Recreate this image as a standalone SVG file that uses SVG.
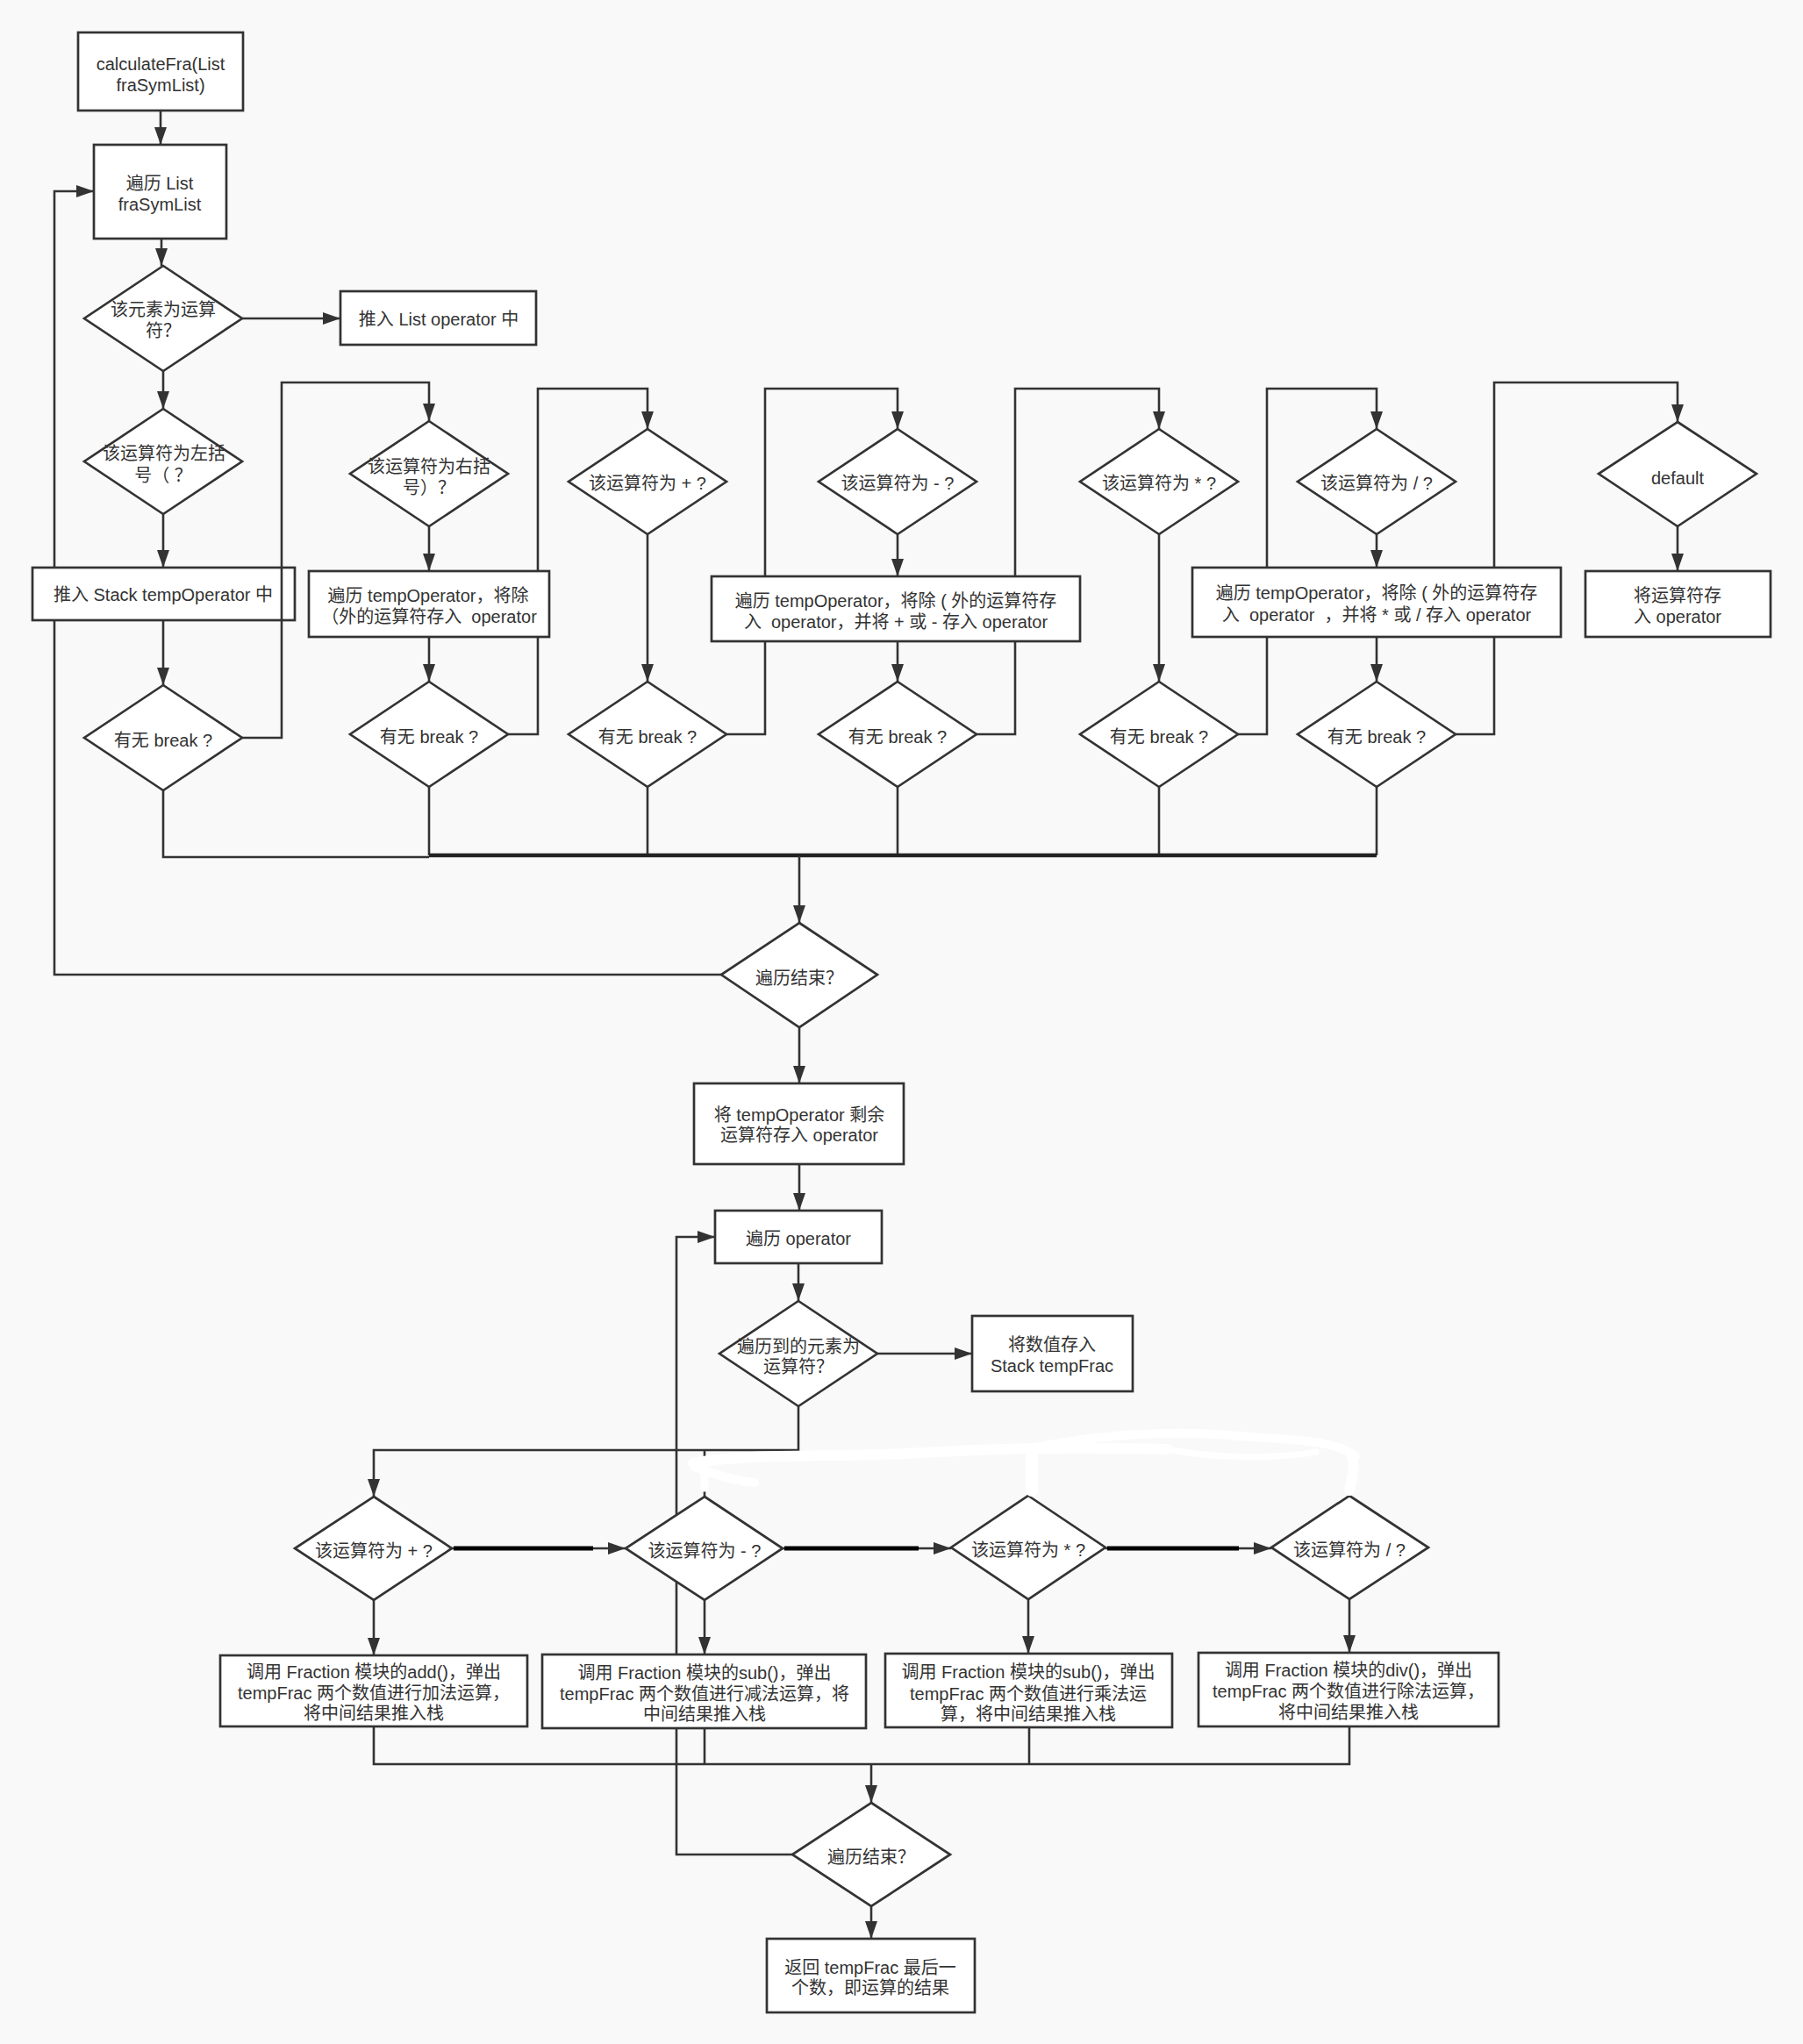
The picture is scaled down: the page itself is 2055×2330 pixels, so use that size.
<svg xmlns="http://www.w3.org/2000/svg" width="2055" height="2330" viewBox="0 0 2055 2330">
<defs>
<marker id="arr" markerUnits="userSpaceOnUse" markerWidth="20" markerHeight="16" viewBox="0 0 20 16" refX="20" refY="8" orient="auto">
<path d="M0,1 L20,8 L0,15 z" fill="#333"/>
</marker>
<style>
.n{fill:#fff;stroke:#333;stroke-width:2.7}
.c{fill:none;stroke:#333;stroke-width:2.6}
.ca{fill:none;stroke:#333;stroke-width:2.6;marker-end:url(#arr)}
.tk{fill:none;stroke:#222;stroke-width:4.5}
.bk{fill:none;stroke:#000;stroke-width:5}
.er{fill:none;stroke:#fff;stroke-linecap:round;stroke-linejoin:round}
text{font-family:"Liberation Sans","Noto Sans CJK SC",sans-serif;font-size:20px;fill:#333;text-anchor:middle;dominant-baseline:central;white-space:pre}
</style>
</defs>
<rect width="2055" height="2330" fill="#f9f9f9"/>

<g id="connectors">
<path class="ca" d="M183,126 V165"/>
<path class="ca" d="M184,272 V303"/>
<path class="ca" d="M276,363 H388"/>
<path class="ca" d="M186,423 V466"/>
<path class="ca" d="M186,586 V647"/>
<path class="ca" d="M186,707 V781"/>
<path class="ca" d="M489,600 V651"/>
<path class="ca" d="M489,726 V777"/>
<path class="ca" d="M579,837 H613 V443 H738 V489"/>
<path class="ca" d="M738,609 V777"/>
<path class="ca" d="M828,837 H872 V443 H1023 V489"/>
<path class="ca" d="M1023,609 V657"/>
<path class="ca" d="M1023,731 V777"/>
<path class="ca" d="M1113,837 H1157 V443 H1321 V489"/>
<path class="ca" d="M1321,609 V777"/>
<path class="ca" d="M1411,837 H1444 V443 H1569 V489"/>
<path class="ca" d="M1569,609 V647"/>
<path class="ca" d="M1569,726 V777"/>
<path class="ca" d="M1659,837 H1703 V436 H1912 V481"/>
<path class="ca" d="M1912,600 V651"/>
<path class="c" d="M186,901 V977 H489"/>
<path class="c" d="M489,897 V975"/>
<path class="c" d="M738,897 V975"/>
<path class="c" d="M1023,897 V975"/>
<path class="c" d="M1321,897 V975"/>
<path class="c" d="M1569,897 V975"/>
<path class="tk" d="M489,975 H1569"/>
<path class="ca" d="M911,976 V1052"/>
<path class="ca" d="M822,1111 H62 V218 H107"/>
<path class="ca" d="M911,1171 V1235"/>
<path class="ca" d="M911,1327 V1380"/>
<path class="ca" d="M910,1440 V1483"/>
<path class="ca" d="M1000,1543 H1108"/>
<path class="ca" d="M910,1603 V1653 H426 V1706"/>
<path class="c" d="M803,1653 V1664"/>
<path class="c" d="M803,1698 V1706"/>
<path class="ca" d="M515,1765 H713"/>
<path class="bk" d="M517,1765 H676"/>
<path class="ca" d="M892,1765 H1084"/>
<path class="bk" d="M894,1765 H1047"/>
<path class="ca" d="M1260,1765 H1449"/>
<path class="bk" d="M1262,1765 H1412"/>
<path class="ca" d="M426,1824 V1887"/>
<path class="ca" d="M803,1824 V1886"/>
<path class="ca" d="M1172,1823 V1885"/>
<path class="ca" d="M1538,1823 V1884"/>
<path class="c" d="M426,1968 V2011 H1538 V1968"/>
<path class="c" d="M803,1970 V2011"/>
<path class="c" d="M1173,1969 V2011"/>
<path class="ca" d="M993,2011 V2055"/>
<path class="ca" d="M903,2114 H771 V1410 H815"/>
<path class="ca" d="M993,2173 V2210"/>
</g>

<g id="n-start"><rect class="n" x="89" y="37" width="188" height="89"/><text x="183" y="73">calculateFra(List</text><text x="183" y="97">fraSymList)</text></g>
<g id="n-iter-list"><rect class="n" x="107" y="165" width="151" height="107"/><text x="182" y="209">遍历 List</text><text x="182" y="233">fraSymList</text></g>
<g id="n-is-op"><polygon class="n" points="186,303 276,363 186,423 96,363"/><text x="186" y="353">该元素为运算</text><text x="186" y="377">符？</text></g>
<g id="n-push-list"><rect class="n" x="388" y="332" width="223" height="61"/><text x="500" y="364">推入 List operator 中</text></g>
<g id="n-lparen"><polygon class="n" points="186,466 276,526 186,586 96,526"/><text x="187" y="517">该运算符为左括</text><text x="186" y="542">号（ ？</text></g>
<g id="n-push-stack"><rect class="n" x="37" y="647" width="299" height="60"/><text x="186" y="678">推入 Stack tempOperator 中</text></g>
<g id="n-break1"><polygon class="n" points="186,781 276,841 186,901 96,841"/><text x="186" y="844">有无 break ?</text></g>
<g id="n-rparen"><polygon class="n" points="489,480 579,540 489,600 399,540"/><text x="489" y="532">该运算符为右括</text><text x="489" y="556">号）？</text></g>
<g id="n-box1"><rect class="n" x="352" y="651" width="274" height="75"/><text x="488" y="679">遍历 tempOperator，将除</text><text x="489" y="703">（外的运算符存入  operator</text></g>
<g id="n-break2"><polygon class="n" points="489,777 579,837 489,897 399,837"/><text x="489" y="840">有无 break ?</text></g>
<g id="n-plus"><polygon class="n" points="738,489 828,549 738,609 648,549"/><text x="738" y="551">该运算符为 + ?</text></g>
<g id="n-break3"><polygon class="n" points="738,777 828,837 738,897 648,837"/><text x="738" y="840">有无 break ?</text></g>
<g id="n-minus"><polygon class="n" points="1023,489 1113,549 1023,609 933,549"/><text x="1023" y="551">该运算符为 - ?</text></g>
<g id="n-box2"><rect class="n" x="811" y="657" width="420" height="74"/><text x="1021" y="685">遍历 tempOperator，将除 ( 外的运算符存</text><text x="1021" y="709">入  operator，并将 + 或 - 存入 operator</text></g>
<g id="n-break4"><polygon class="n" points="1023,777 1113,837 1023,897 933,837"/><text x="1023" y="840">有无 break ?</text></g>
<g id="n-mul"><polygon class="n" points="1321,489 1411,549 1321,609 1231,549"/><text x="1321" y="551">该运算符为 * ?</text></g>
<g id="n-break5"><polygon class="n" points="1321,777 1411,837 1321,897 1231,837"/><text x="1321" y="840">有无 break ?</text></g>
<g id="n-div"><polygon class="n" points="1569,489 1659,549 1569,609 1479,549"/><text x="1569" y="551">该运算符为 / ?</text></g>
<g id="n-box3"><rect class="n" x="1359" y="647" width="420" height="79"/><text x="1569" y="676">遍历 tempOperator，将除 ( 外的运算符存</text><text x="1569" y="701">入  operator  ，并将 * 或 / 存入 operator</text></g>
<g id="n-break6"><polygon class="n" points="1569,777 1659,837 1569,897 1479,837"/><text x="1569" y="840">有无 break ?</text></g>
<g id="n-default"><polygon class="n" points="1912,481 2002,540 1912,600 1822,540"/><text x="1912" y="545">default</text></g>
<g id="n-default-box"><rect class="n" x="1807" y="651" width="211" height="75"/><text x="1912" y="679">将运算符存</text><text x="1912" y="703">入 operator</text></g>
<g id="n-end1"><polygon class="n" points="911,1052 1000,1111 911,1171 822,1111"/><text x="911" y="1115">遍历结束？</text></g>
<g id="n-remain"><rect class="n" x="791" y="1235" width="239" height="92"/><text x="911" y="1271">将 tempOperator 剩余</text><text x="911" y="1294">运算符存入 operator</text></g>
<g id="n-iter-op"><rect class="n" x="815" y="1380" width="190" height="60"/><text x="910" y="1412">遍历 operator</text></g>
<g id="n-is-op2"><polygon class="n" points="910,1483 1000,1543 910,1603 820,1543"/><text x="910" y="1535">遍历到的元素为</text><text x="910" y="1558">运算符？</text></g>
<g id="n-push-frac"><rect class="n" x="1108" y="1500" width="183" height="86"/><text x="1199" y="1533">将数值存入</text><text x="1199" y="1557">Stack tempFrac</text></g>
<g id="n-q-plus"><polygon class="n" points="426,1706 515,1765 426,1824 336,1765"/><text x="426" y="1768">该运算符为 + ?</text></g>
<g id="n-q-minus"><polygon class="n" points="803,1706 892,1765 803,1824 713,1765"/><text x="803" y="1768">该运算符为 - ?</text></g>
<g id="n-q-mul"><polygon class="n" points="1172,1705 1260,1764 1172,1823 1084,1764"/><text x="1172" y="1767">该运算符为 * ?</text></g>
<g id="n-q-div"><polygon class="n" points="1538,1705 1628,1764 1538,1823 1449,1764"/><text x="1538" y="1767">该运算符为 / ?</text></g>
<g id="n-add"><rect class="n" x="251" y="1887" width="350" height="81"/><text x="426" y="1906">调用 Fraction 模块的add()，弹出</text><text x="426" y="1930">tempFrac 两个数值进行加法运算，</text><text x="426" y="1953">将中间结果推入栈</text></g>
<g id="n-sub"><rect class="n" x="618" y="1886" width="369" height="84"/><text x="803" y="1907">调用 Fraction 模块的sub()，弹出</text><text x="803" y="1931">tempFrac 两个数值进行减法运算，将</text><text x="803" y="1954">中间结果推入栈</text></g>
<g id="n-mul2"><rect class="n" x="1009" y="1885" width="327" height="84"/><text x="1172" y="1906">调用 Fraction 模块的sub()，弹出</text><text x="1172" y="1931">tempFrac 两个数值进行乘法运</text><text x="1172" y="1954">算，将中间结果推入栈</text></g>
<g id="n-div2"><rect class="n" x="1366" y="1884" width="342" height="84"/><text x="1537" y="1904">调用 Fraction 模块的div()，弹出</text><text x="1537" y="1928">tempFrac 两个数值进行除法运算，</text><text x="1537" y="1952">将中间结果推入栈</text></g>
<g id="n-end2"><polygon class="n" points="993,2055 1083,2114 993,2173 903,2114"/><text x="993" y="2117">遍历结束？</text></g>
<g id="n-return"><rect class="n" x="874" y="2210" width="237" height="84"/><text x="992" y="2243">返回 tempFrac 最后一</text><text x="992" y="2266">个数，即运算的结果</text></g>

<g id="connectors-over">
<path class="ca" d="M276,841 H321 V436 H489 V480"/>
</g>

<g id="erasure">
<path class="er" stroke-width="12" d="M790,1668 C850,1656 950,1662 1050,1656 S1250,1650 1330,1652"/>
<path class="er" stroke-width="10" d="M1180,1650 C1250,1636 1330,1630 1400,1636 S1520,1640 1545,1660"/>
<path class="er" stroke-width="7" d="M1330,1652 C1380,1662 1450,1664 1500,1655"/>
<path class="er" stroke-width="14" d="M1176,1656 V1699"/>
<path class="er" stroke-width="12" d="M1541,1660 C1545,1675 1540,1688 1538,1699"/>
<path class="er" stroke-width="10" d="M792,1672 C812,1680 838,1688 860,1690"/>
<path class="er" stroke-width="9" d="M803,1668 V1696"/>
</g>
</svg>
